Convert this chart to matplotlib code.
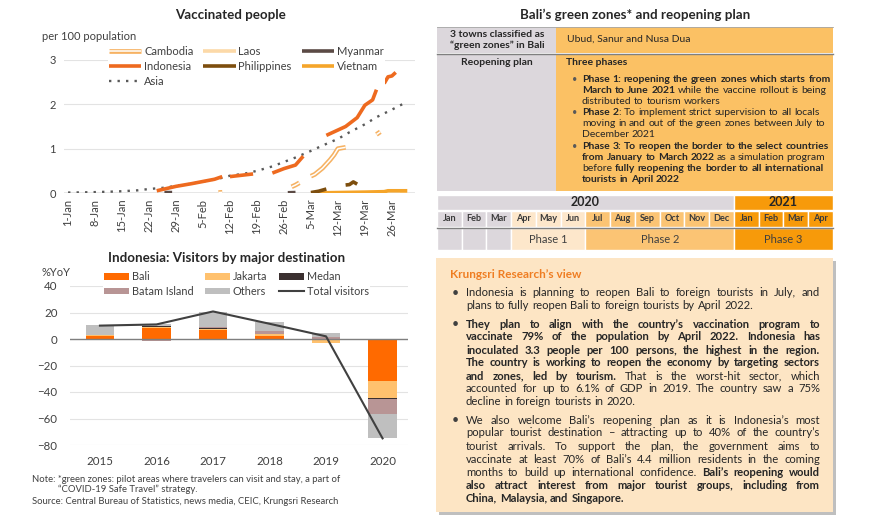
import numpy as np
import pandas as pd
import matplotlib
matplotlib.use('Agg')
import matplotlib.pyplot as plt
import matplotlib.patheffects as pe
from matplotlib.patches import Rectangle

plt.rcParams['font.family'] = ['Lato', 'DejaVu Sans']

# ---------------- data: vaccinated people (per 100 population) ----------------
asia_dates = ['2021-01-01', '2021-01-05', '2021-01-08', '2021-01-12', '2021-01-15', '2021-01-19',
              '2021-01-22', '2021-01-26', '2021-01-29', '2021-02-02', '2021-02-05', '2021-02-09',
              '2021-02-12', '2021-02-16', '2021-02-19', '2021-02-23', '2021-02-26', '2021-03-01',
              '2021-03-05', '2021-03-08', '2021-03-12', '2021-03-15', '2021-03-19', '2021-03-22',
              '2021-03-26', '2021-03-30']
asia_vals = [0.01, 0.015, 0.02, 0.03, 0.04, 0.06, 0.09, 0.12, 0.16, 0.21, 0.26, 0.32,
             0.39, 0.44, 0.50, 0.60, 0.70, 0.80, 0.95, 1.07, 1.22, 1.37, 1.55, 1.71, 1.88, 2.06]

indonesia_dates = ['2021-01-24', '2021-01-29', '2021-02-02', '2021-02-05', '2021-02-08', '2021-02-10',
                   '2021-02-11', '2021-02-12', '2021-02-15', '2021-02-18', '2021-02-20', '2021-02-23',
                   '2021-02-26', '2021-03-01', '2021-03-03', '2021-03-06', '2021-03-09', '2021-03-11',
                   '2021-03-14', '2021-03-17', '2021-03-19', '2021-03-20', '2021-03-21', '2021-03-22',
                   '2021-03-23', '2021-03-24', '2021-03-25', '2021-03-26', '2021-03-27']
indonesia_vals = [0.05, 0.15, 0.21, 0.26, 0.31, 0.37, np.nan, 0.37, 0.40, 0.43, np.nan, 0.45,
                  0.55, 0.63, 0.83, np.nan, 1.30, 1.38, 1.50, 1.70, 1.98, 2.04, 2.10, 2.33,
                  np.nan, 2.47, 2.62, 2.64, 2.72]

cambodia_dates = ['2021-02-09', '2021-02-10', '2021-02-11', '2021-02-28', '2021-03-01', '2021-03-02',
                  '2021-03-03', '2021-03-05', '2021-03-06', '2021-03-08', '2021-03-10', '2021-03-11',
                  '2021-03-12', '2021-03-14', '2021-03-15', '2021-03-22', '2021-03-23']
cambodia_vals = [0.01, 0.015, np.nan, 0.14, 0.18, 0.23, np.nan, 0.38, 0.42, 0.56, 0.75, 0.86,
                 1.00, 1.03, np.nan, 1.32, 1.38]

laos_dates = ['2021-03-28', '2021-03-29', '2021-03-30']
laos_vals = [0.01, 0.01, 0.01]

myanmar_dates = ['2021-01-26', '2021-01-28', '2021-01-29', '2021-02-27', '2021-03-01']
myanmar_vals = [0.01, 0.01, np.nan, 0.005, 0.01]

philippines_dates = ['2021-03-05', '2021-03-07', '2021-03-09', '2021-03-10', '2021-03-14',
                     '2021-03-15', '2021-03-16', '2021-03-17']
philippines_vals = [0.01, 0.04, 0.09, np.nan, 0.18, 0.19, 0.25, 0.20]

vietnam_dates = ['2021-03-05', '2021-03-12', '2021-03-19', '2021-03-24', '2021-03-25', '2021-03-30']
vietnam_vals = [0.0, 0.01, 0.02, 0.03, 0.05, 0.05]

vacc_ticks = ['1-Jan', '8-Jan', '15-Jan', '22-Jan', '29-Jan', '5-Feb', '12-Feb', '19-Feb',
              '26-Feb', '5-Mar', '12-Mar', '19-Mar', '26-Mar']

# ---------------- data: Indonesia visitors (%YoY contribution) ----------------
years = ['2015', '2016', '2017', '2018', '2019', '2020']
bali = [2.0, 8.6, 6.8, 2.3, -0.5, -32.0]
jakarta = [0.8, 0.6, 1.0, 1.3, -2.5, -12.5]
medan = [-0.6, 0.3, 0.6, 0.4, 0.3, -1.0]
batam = [0.0, -1.3, 0.3, 1.8, 1.2, -11.0]
others = [7.8, 1.5, 11.8, 7.4, 2.8, -18.0]
total_visitors = [10.1, 11.0, 20.8, 11.5, 2.0, -75.0]

W, H = 870, 519
TXT = '#262626'
GREY = '#DCD7DC'
ORANGE = '#FBC164'
DARK_OR = '#F79A0A'
PEACH = '#FDE7CB'
LIGHT_OR = '#FBC474'

fig = plt.figure(figsize=(W / 100, H / 100), dpi=100)
bg = fig.add_axes([0, 0, 1, 1], zorder=0)
bg.set_xlim(0, W)
bg.set_ylim(H, 0)
bg.axis('off')
renderer = fig.canvas.get_renderer()


def px_axes(l, t, r, b):
    ax = fig.add_axes([l / W, 1 - b / H, (r - l) / W, (b - t) / H], zorder=2)
    ax.set_facecolor('none')
    return ax


def days(dates):
    return (pd.to_datetime(dates) - pd.Timestamp('2021-01-01')).days


def tokenize(segments):
    words, glue = [], False
    for text, bold in segments:
        for i, p in enumerate(text.split(' ')):
            if i > 0:
                glue = False
            if not p:
                continue
            if glue:
                words[-1].append((p, bold))
            else:
                words.append([(p, bold)])
            glue = True
    return words


def space_width(size):
    a = bg.text(0, 0, 'a a', fontsize=size)
    b = bg.text(0, 0, 'aa', fontsize=size)
    w = a.get_window_extent(renderer).width - b.get_window_extent(renderer).width
    a.remove()
    b.remove()
    return w


def rich_line(x, y, segments, size, width=None, color=TXT):
    words = tokenize(segments)
    placed, wsum = [], []
    for word in words:
        parts = []
        for p, b in word:
            t = bg.text(x, y, p, fontsize=size, fontweight='bold' if b else 'normal',
                        color=color, va='center', ha='left')
            parts.append((t, t.get_window_extent(renderer).width))
        placed.append(parts)
        wsum.append(sum(w for _, w in parts))
    sp = space_width(size)
    gap = sp
    if width is not None and len(words) > 1:
        gap = max((width - sum(wsum)) / (len(words) - 1), 0.5 * sp)
    cx = x
    for parts, ws in zip(placed, wsum):
        px = cx
        for t, w in parts:
            t.set_x(px)
            px += w
        cx += ws + gap


# ---------------- chart 1: vaccinated people ----------------
ax1 = px_axes(64, 60, 415, 193)
series = [
    ('Cambodia', cambodia_dates, cambodia_vals,
     dict(color='white', lw=1.1, path_effects=[pe.Stroke(linewidth=3.4, foreground='#F6B263'), pe.Normal()])),
    ('Indonesia', indonesia_dates, indonesia_vals, dict(color='#EE6A1F', lw=2.6)),
    ('Asia', asia_dates, asia_vals, dict(color='#595959', lw=1.7, ls=(0, (1, 2.6)))),
    ('Laos', laos_dates, laos_vals, dict(color='#FCD9A8', lw=2.6)),
    ('Philippines', philippines_dates, philippines_vals, dict(color='#7D4E0E', lw=2.6)),
    ('Myanmar', myanmar_dates, myanmar_vals, dict(color='#5B4A45', lw=2.6)),
    ('Vietnam', vietnam_dates, vietnam_vals, dict(color='#F5A52A', lw=2.6)),
]
draw_order = ['Asia', 'Laos', 'Myanmar', 'Vietnam', 'Philippines', 'Cambodia', 'Indonesia']
handles = {}
for name in draw_order:
    for n, d, v, st in series:
        if n == name:
            handles[n], = ax1.plot(days(d), v, label=n, solid_capstyle='butt', **st)
ax1.set_xlim(-1.05, 90)
ax1.set_ylim(0, 3)
ax1.set_yticks([0, 1, 2, 3])
ax1.set_xticks(np.arange(0, 85, 7))
ax1.set_xticklabels(vacc_ticks, rotation=90)
ax1.tick_params(length=0, labelsize=8, colors='#404040', pad=6)
ax1.tick_params(axis='x', pad=4)
for s in ax1.spines.values():
    s.set_visible(False)
ax1.grid(axis='y', color='#E3E3E3', lw=0.8)
ax1.axhline(0, color='#8C8C8C', lw=1, zorder=0.5)
ax1.set_axisbelow(True)
leg1 = fig.legend([handles[n] for n, *_ in series], [n for n, *_ in series],
                  ncol=3, loc='upper left', bbox_to_anchor=(108 / W, 1 - 45 / H),
                  frameon=True, facecolor='white', edgecolor='none', framealpha=1,
                  fontsize=8, handlelength=2.9, handletextpad=0.25, columnspacing=0.9,
                  labelspacing=0.35, borderpad=0.1, borderaxespad=0)
for t in leg1.get_texts():
    t.set_color('#404040')
leg1.set_zorder(5)

bg.text(230, 15, 'Vaccinated people', fontsize=9.6, fontweight='bold', color=TXT, ha='center', va='center')
bg.text(42, 37, 'per 100 population', fontsize=8, color='#404040', ha='left', va='center')

# ---------------- chart 2: Indonesia visitors ----------------
ax2 = px_axes(70, 286, 408, 445)
x = np.arange(len(years))
comps = [('Bali', bali, '#FF6A00'), ('Jakarta', jakarta, '#FFC16E'), ('Medan', medan, '#3B3030'),
         ('Batam Island', batam, '#B89595'), ('Others', others, '#BFBFBF')]
pos = np.zeros(len(years))
neg = np.zeros(len(years))
bars = {}
for name, vals, col in comps:
    vals = np.array(vals)
    bottom = np.where(vals >= 0, pos, neg)
    bars[name] = ax2.bar(x, vals, 0.5, bottom=bottom, color=col, label=name, zorder=2)
    pos = pos + np.where(vals >= 0, vals, 0)
    neg = neg + np.where(vals < 0, vals, 0)
tl, = ax2.plot(x, total_visitors, color='#404040', lw=1.5, label='Total visitors', zorder=3)
ax2.set_xlim(-0.53, 5.45)
ax2.set_ylim(-80, 40)
ax2.set_yticks(np.arange(-80, 41, 20))
ax2.set_xticks(x)
ax2.set_xticklabels(years)
ax2.tick_params(length=0, labelsize=8.3, colors='#404040')
ax2.tick_params(axis='y', pad=9)
ax2.tick_params(axis='x', pad=8)
for s in ax2.spines.values():
    s.set_visible(False)
ax2.grid(axis='y', color='#E3E3E3', lw=0.8)
ax2.set_axisbelow(True)
ax2.axhline(0, color='#7F7F7F', lw=1, zorder=2.5)
h2 = [bars['Bali'], bars['Batam Island'], bars['Jakarta'], bars['Others'], bars['Medan'], tl]
l2 = ['Bali', 'Batam Island', 'Jakarta', 'Others', 'Medan', 'Total visitors']
leg2 = fig.legend(h2, l2, ncol=3, loc='upper left', bbox_to_anchor=(103 / W, 1 - 270 / H),
                  frameon=True, facecolor='white', edgecolor='none', framealpha=1,
                  fontsize=7.8, handlelength=2.3, handleheight=0.55, handletextpad=0.25,
                  columnspacing=1.1, labelspacing=0.35, borderpad=0.1, borderaxespad=0)
for t in leg2.get_texts():
    t.set_color('#404040')
leg2.set_zorder(5)

bg.text(227, 258, 'Indonesia: Visitors by major destination', fontsize=9.6, fontweight='bold',
        color=TXT, ha='center', va='center')
bg.text(42, 272, '%YoY', fontsize=8, color='#404040', ha='left', va='center')

bg.text(32, 479, 'Note: *green zones: pilot areas where travelers can visit and stay, a part of',
        fontsize=6.8, color='#404040', va='center')
bg.text(58, 489, '\u201cCOVID-19 Safe Travel\u201d strategy.', fontsize=6.8, color='#404040', va='center')
bg.text(32, 502, 'Source: Central Bureau of Statistics, news media, CEIC, Krungsri Research',
        fontsize=6.8, color='#404040', va='center')

# ---------------- right top: green zones table ----------------
bg.text(635, 15, 'Bali\u2019s green zones* and reopening plan', fontsize=9.6, fontweight='bold',
        color=TXT, ha='center', va='center')
L, M, R = 437, 556, 833
bg.add_patch(Rectangle((L, 27), M - L, 26, color=GREY, lw=0))
bg.add_patch(Rectangle((M, 27), R - M, 26, color=ORANGE, lw=0))
bg.add_patch(Rectangle((L, 54), M - L, 137, color=GREY, lw=0))
bg.add_patch(Rectangle((M, 54), R - M, 137, color=ORANGE, lw=0))
bg.plot([L, R], [53.5, 53.5], color='#7F7F7F', lw=1.0)
bg.plot([L, R], [27, 27], color='#A6A6A6', lw=0.6)

TS = 7.5
bg.text(497, 34.3, '3 towns classified as', fontsize=TS, fontweight='bold', color=TXT, ha='center', va='center')
bg.text(497, 45.3, '\u201cgreen zones\u201d in Bali', fontsize=TS, fontweight='bold', color=TXT, ha='center', va='center')
bg.text(567, 39.5, 'Ubud, Sanur and Nusa Dua', fontsize=TS, color=TXT, ha='left', va='center')
bg.text(497, 62.3, 'Reopening plan', fontsize=TS, fontweight='bold', color=TXT, ha='center', va='center')
bg.text(566, 62.3, 'Three phases', fontsize=TS, fontweight='bold', color=TXT, ha='left', va='center')

phase_lines = [
    [('Phase 1:  reopening the green zones  which starts from', True)],
    [('March to June 2021', True), (' while the vaccine rollout is being', False)],
    [('distributed to tourism workers', False)],
    [('Phase 2', True), (': To implement strict supervision to all locals', False)],
    [('moving in and out of the green zones between July to', False)],
    [('December 2021', False)],
    [('Phase 3: To reopen the border to the select countries', True)],
    [('from January to March 2022', True), (' as a simulation program', False)],
    [('before ', False), ('fully reopening the border to all international', True)],
    [('tourists in April 2022', True)],
]
phase_y = [79.3, 90.7, 101.5, 112.7, 123.5, 134.7, 146.5, 157.5, 168.5, 179.5]
for i, (segs, yy) in enumerate(zip(phase_lines, phase_y)):
    if i in (0, 3, 6):
        bg.text(572, yy, '\u2022', fontsize=6.5, color='#595959', ha='left', va='center')
    rich_line(582, yy, segs, TS)

# timeline
months = ['Jan', 'Feb', 'Mar', 'Apr', 'May', 'Jun', 'Jul', 'Aug', 'Sep', 'Oct', 'Nov', 'Dec',
          'Jan', 'Feb', 'Mar', 'Apr']
month_cols = [GREY] * 3 + [PEACH] * 3 + [LIGHT_OR] * 6 + [DARK_OR] * 4
cw = (R - L) / len(months)
bg.add_patch(Rectangle((L, 195), 12 * cw, 15, facecolor=GREY, edgecolor='white', lw=1))
bg.add_patch(Rectangle((L + 12 * cw, 195), 4 * cw, 15, facecolor=DARK_OR, edgecolor='white', lw=1))
bg.text(L + 6 * cw, 202.5, '2020', fontsize=9, fontweight='bold', color=TXT, ha='center', va='center')
bg.text(L + 14 * cw, 202.5, '2021', fontsize=9, fontweight='bold', color=TXT, ha='center', va='center')
for i, (m, c) in enumerate(zip(months, month_cols)):
    bg.add_patch(Rectangle((L + i * cw, 210.5), cw, 16.5, facecolor=c, edgecolor='white', lw=1))
    bg.text(L + (i + 0.5) * cw, 218.7, m, fontsize=6.6, fontweight='bold', color='#3A3A3A',
            ha='center', va='center')
bg.plot([L, R], [227.5, 227.5], color='#808080', lw=1.0)
for i in range(3):
    bg.add_patch(Rectangle((L + i * cw, 228.3), cw, 22, facecolor=GREY, edgecolor='white', lw=1))
phases = [('Phase 1', 3, 6, PEACH), ('Phase 2', 6, 12, LIGHT_OR), ('Phase 3', 12, 16, DARK_OR)]
for lab, a, b, c in phases:
    bg.add_patch(Rectangle((L + a * cw, 228.3), (b - a) * cw, 22, facecolor=c, edgecolor='white', lw=1))
    bg.text(L + (a + b) / 2 * cw, 239.3, lab, fontsize=8, color='#404040', ha='center', va='center')

# ---------------- right bottom: Krungsri view box ----------------
bg.add_patch(Rectangle((439, 261), R - 436, 254, color='#BFBFBF', lw=0))
bg.add_patch(Rectangle((436, 258), R - 436, 254, color='#FDE5C4', lw=0))
bg.text(450, 275, 'Krungsri Research\u2019s view', fontsize=8.5, fontweight='bold',
        color='#EF7D22', ha='left', va='center')

view_paras = [
    [
        [('Indonesia is planning to reopen Bali to foreign tourists in July, and', False)],
        [('plans to  fully reopen Bali to foreign tourists by April 2022.', False)],
    ],
    [
        [('They plan to align with the country\u2019s vaccination program to', True)],
        [('vaccinate 79% of the population by April 2022. Indonesia has', True)],
        [('inoculated 3.3 people per 100 persons, the highest in the region.', True)],
        [('The country is working to reopen the economy by targeting sectors', True)],
        [('and zones, led by tourism.', True), (' That is the worst-hit sector, which', False)],
        [('accounted for up to 6.1% of GDP in 2019. The country saw a 75%', False)],
        [('decline in foreign tourists in 2020.', False)],
    ],
    [
        [('We also welcome Bali\u2019s reopening plan as it is Indonesia\u2019s most', False)],
        [('popular tourist destination \u2013 attracting up to 40% of the country\u2019s', False)],
        [('tourist arrivals. To support the plan, the government aims to', False)],
        [('vaccinate at least 70% of Bali\u2019s 4.4 million residents in the coming', False)],
        [('months to build up international confidence.', False), (' Bali\u2019s reopening would', True)],
        [('also attract interest from major tourist groups, including from', True)],
        [('China, Malaysia, and Singapore.', True)],
    ],
]
view_y = [[292.7, 305.7],
          [324, 336.9, 350, 363, 376, 389, 401.8],
          [420, 433, 446.5, 459.5, 472.3, 485.3, 498.3]]
for para, ys in zip(view_paras, view_y):
    bg.text(452, ys[0], '\u2022', fontsize=9, color='#404040', ha='left', va='center')
    for j, (segs, yy) in enumerate(zip(para, ys)):
        last = j == len(para) - 1
        rich_line(466, yy, segs, 8.1, width=None if last else 354)

fig.savefig('out.png', dpi=100)
